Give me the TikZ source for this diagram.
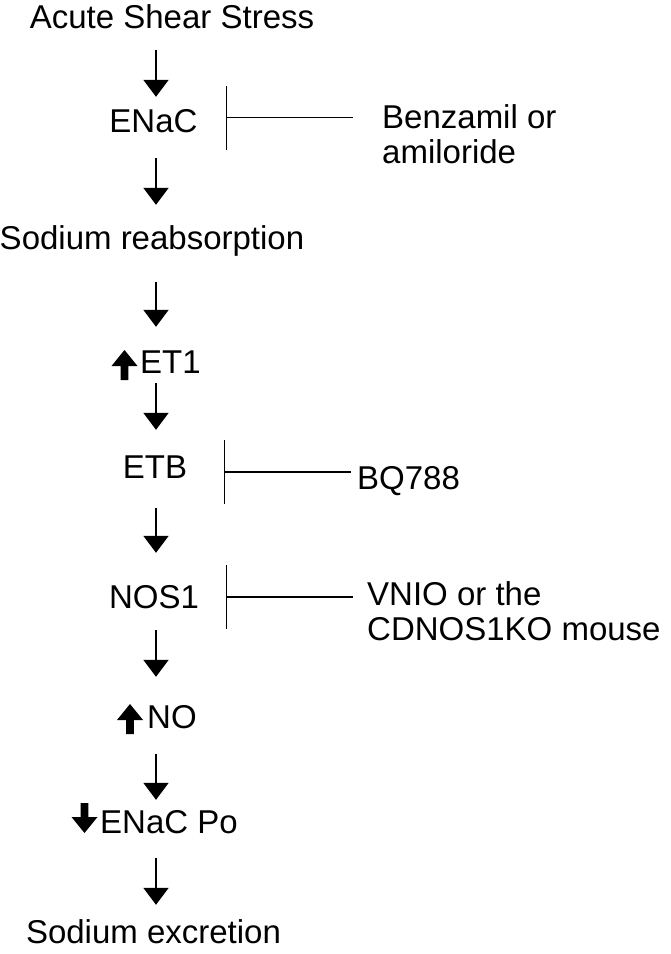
\documentclass[tikz,border=0pt]{standalone}
\usepackage{fontspec}
\setmainfont{Liberation Sans}
\usetikzlibrary{arrows.meta}
\begin{document}
\begin{tikzpicture}[x=1pt,y=-1pt,
  lbl/.style={font=\fontsize{33}{35}\selectfont, inner sep=0pt, text height=23pt, text depth=7pt, anchor=base},
  lblw/.style={lbl, anchor=base west},
  side/.style={font=\fontsize{33}{35}\selectfont, inner sep=0pt, anchor=base west},
  arr/.style={line width=1.8pt, -{Triangle[length=17pt,width=25pt]}},
  inh/.style={line width=1.2pt, {Bar[width=64pt]}-},
  bigup/.pic={\fill (-3.8,0) -- (-3.8,-14) -- (-13,-14) -- (0,-30) -- (13,-14) -- (3.8,-14) -- (3.8,0) -- cycle;},
  bigdown/.pic={\fill (-3.8,-30) -- (-3.8,-16) -- (-13,-16) -- (0,0) -- (13,-16) -- (3.8,-16) -- (3.8,-30) -- cycle;},
]
\useasboundingbox (0,0) rectangle (670,954);
\fill[white] (0,0) rectangle (670,954);
\coordinate (axis) at (156,0);

% main chain
\node[lbl] (acute) at (172,28) {Acute Shear Stress};
\node[lbl] (enac) at (153.5,132) {ENaC};
\node[lbl] (reabs) at (152,249) {Sodium reabsorption};
\node[lblw] (et1) at (140,373) {ET1};
\node[lbl] (etb) at (155,478) {ETB};
\node[lbl] (nos) at (154,608) {NOS1};
\node[lblw] (no) at (147,728) {NO};
\node[lblw] (enacpo) at (100,833) {ENaC Po};
\node[lbl] (excr) at (153.5,943) {Sodium excretion};

\pic at (124.5,380) {bigup};
\pic at (130,734) {bigup};
\pic at (84.5,833) {bigdown};

% side labels
\node[side] (benz) at (382,128) {\begin{tabular}[t]{@{}l@{}}Benzamil or\\amiloride\end{tabular}};
\node[side] (bq) at (357,489) {BQ788};
\node[side] (vnio) at (367,605) {\begin{tabular}[t]{@{}l@{}}VNIO or the\\CDNOS1KO mouse\end{tabular}};

% arrows
\draw[arr, shorten <=15pt, shorten >=12pt] (acute.south -| axis) -- (enac.north -| axis);
\draw[arr, shorten <=19pt, shorten >=21pt] (enac.south -| axis) -- (reabs.north -| axis);
\draw[arr, shorten <=26pt, shorten >=23pt] (reabs.south -| axis) -- (et1.north -| axis);
\draw[arr, shorten <=3pt, shorten >=25pt] (et1.south -| axis) -- (etb.north -| axis);
\draw[arr, shorten <=23pt, shorten >=32pt] (etb.south -| axis) -- (nos.north -| axis);
\draw[arr, shorten <=15pt, shorten >=28pt] (nos.south -| axis) -- (no.north -| axis);
\draw[arr, shorten <=19pt, shorten >=10pt] (no.south -| axis) -- (enacpo.north -| axis);
\draw[arr, shorten <=18pt, shorten >=15pt] (enacpo.south -| axis) -- (excr.north -| axis);

% inhibitions
\coordinate (i1) at (226,117.5);
\coordinate (i2) at (224,472);
\coordinate (i3) at (226,597);
\draw[inh, shorten >=29pt] (i1) -- (benz.west |- i1);
\draw[inh, shorten >=6pt] (i2) -- (bq.west |- i2);
\draw[inh, shorten >=14pt] (i3) -- (vnio.west |- i3);
\end{tikzpicture}
\end{document}
